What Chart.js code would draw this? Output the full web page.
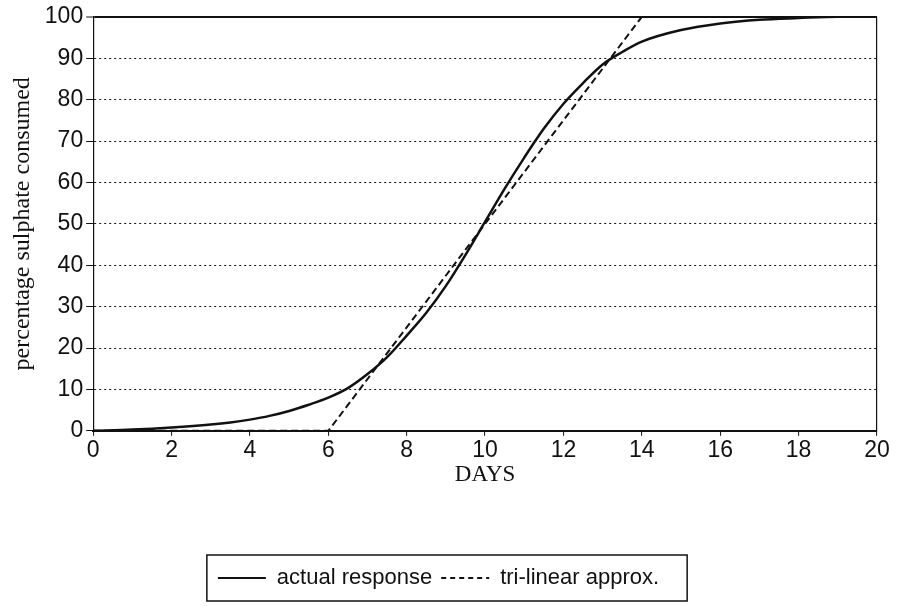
<!DOCTYPE html>
<html>
<head>
<meta charset="utf-8">
<script src="https://cdn.jsdelivr.net/npm/chart.js@4/dist/chart.umd.min.js"></script>
<style>
  html, body { margin: 0; padding: 0; background: #fff; }
  #wrap { width: 897px; height: 606px; }
</style>
</head>
<body>
<div id="wrap"><canvas id="chart" width="897" height="606"></canvas></div>
<script>
// data
const days = [0, 1, 2, 3, 3.5, 4, 4.5, 5, 5.5, 6, 6.5, 7, 7.5, 8, 8.5, 9, 9.5, 10, 10.5, 11, 11.5, 12, 12.5, 13, 13.5, 14, 15, 16, 17, 18, 19, 20];
const actualResponse = [0, 0.3, 0.8, 1.5, 2.0, 2.7, 3.6, 4.8, 6.3, 8.0, 10.3, 13.7, 17.8, 23, 28.5, 35, 42.5, 50.5, 58.5, 66, 73, 79, 84, 88.5, 91.5, 94, 96.8, 98.4, 99.3, 99.7, 100, 100];
const triDays = [0, 6, 14, 20];
const triLinear = [0, 0, 100, 100];
const xTicks = [0, 2, 4, 6, 8, 10, 12, 14, 16, 18, 20];

const toPoints = (xs, ys) => xs.map((x, i) => ({ x: x, y: ys[i] }));

const sans = "'Liberation Sans', Arial, sans-serif";
const serif = "'Liberation Serif', 'Times New Roman', serif";

// box around the legend
const legendBox = {
  id: 'legendBox',
  afterDraw(chart) {
    const boxes = chart.legend && chart.legend.legendHitBoxes;
    if (!boxes || !boxes.length) return;
    const left = Math.min(...boxes.map(b => b.left)) - 11;
    const right = Math.max(...boxes.map(b => b.left + b.width)) + 28;
    const top = Math.min(...boxes.map(b => b.top)) - 12;
    const bottom = Math.max(...boxes.map(b => b.top + b.height)) + 12;
    const ctx = chart.ctx;
    ctx.save();
    ctx.strokeStyle = '#111';
    ctx.lineWidth = 1.5;
    ctx.strokeRect(left, top, right - left, bottom - top);
    ctx.restore();
  }
};

const ctx = document.getElementById('chart').getContext('2d');
new Chart(ctx, {
  type: 'line',
  data: {
    datasets: [{
      label: 'actual response',
      data: toPoints(days, actualResponse),
      borderColor: '#111',
      borderWidth: 2.5,
      pointRadius: 0,
      tension: 0.4,
      cubicInterpolationMode: 'monotone',
      fill: false
    }, {
      label: 'tri-linear approx.',
      data: toPoints(triDays, triLinear),
      borderColor: '#111',
      borderWidth: 2,
      borderDash: [7, 4],
      pointRadius: 0,
      tension: 0,
      fill: false
    }]
  },
  options: {
    responsive: false,
    animation: false,
    layout: { padding: { left: 0, right: 20, top: 15, bottom: 7 } },
    plugins: {
      tooltip: { enabled: false },
      legend: {
        position: 'bottom',
        labels: {
          color: '#111',
          font: { family: sans, size: 22 },
          usePointStyle: true,
          pointStyle: 'line',
          pointStyleWidth: 48,
          padding: 9,
          generateLabels: chart => {
            const items = Chart.defaults.plugins.legend.labels.generateLabels(chart);
            items.forEach(it => {
              const ds = chart.data.datasets[it.datasetIndex];
              it.lineDash = ds.borderDash ? [5, 4] : [];
              it.lineWidth = 2;
              it.pointStyle = 'line';
            });
            return items;
          }
        }
      }
    },
    scales: {
      x: {
        type: 'linear',
        min: 0,
        max: 20,
        afterBuildTicks: axis => { axis.ticks = xTicks.map(v => ({ value: v })); },
        ticks: {
          color: '#111',
          padding: 1,
          maxRotation: 0,
          font: { family: sans, size: 23 }
        },
        grid: {
          drawOnChartArea: true,
          color: c => (c.tick && c.tick.value === 20) ? '#111' : 'rgba(0,0,0,0)',
          lineWidth: 1.2,
          tickColor: '#111',
          tickLength: 5,
          tickWidth: 1
        },
        border: { display: true, color: '#111', width: 2 },
        title: {
          display: true,
          text: 'DAYS',
          color: '#111',
          font: { family: serif, size: 23 },
          padding: { top: -4, bottom: 69 }
        }
      },
      y: {
        min: 0,
        max: 100,
        ticks: {
          stepSize: 10,
          color: '#111',
          padding: 3,
          font: { family: sans, size: 23 }
        },
        grid: {
          color: '#111',
          lineWidth: c => (c.tick && (c.tick.value === 100)) ? 2 : 1,
          tickColor: '#111',
          tickLength: 7,
          tickWidth: 1
        },
        border: {
          display: true,
          color: '#111',
          width: 1.2,
          dash: c => (c.tick && (c.tick.value === 0 || c.tick.value === 100)) ? [] : [2, 3]
        },
        title: {
          display: true,
          text: 'percentage sulphate consumed',
          color: '#111',
          font: { family: serif, size: 24 },
          padding: { top: 8, bottom: 5 }
        }
      }
    }
  },
  plugins: [legendBox]
});
</script>
</body>
</html>
